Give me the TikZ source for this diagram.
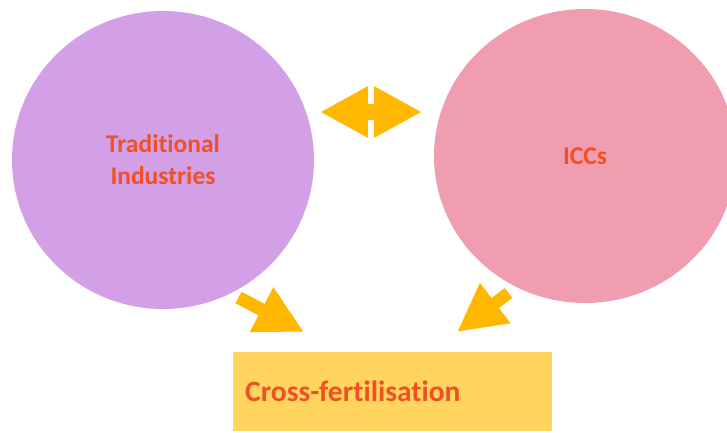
\documentclass[tikz,border=0pt]{standalone}
\usepackage{fontspec}
\setmainfont{Carlito}[Ligatures=NoCommon]
\usetikzlibrary{arrows.meta,shapes.geometric}

\definecolor{tradpurple}{RGB}{211,160,232}
\definecolor{iccpink}{RGB}{240,157,176}
\definecolor{crossyellow}{RGB}{255,213,95}
\definecolor{arrowgold}{RGB}{255,183,0}
\definecolor{labelred}{RGB}{240,80,35}

\begin{document}
\begin{tikzpicture}[x=1pt, y=-1pt,
    bubble/.style={ellipse, inner sep=0pt, text=labelred, align=center,
        font=\fontsize{25.5}{32}\selectfont\bfseries},
    blockarrow/.style={draw=arrowgold, line width=#1,
        -{Triangle[length=48pt, width=47pt]}}]
    \useasboundingbox (0,0) rectangle (727,432);

    % the two sectors as big round bubbles
    \node[bubble, fill=tradpurple, minimum width=302pt, minimum height=298pt]
        (trad) at (163,160) {Traditional\\Industries};
    \node[bubble, fill=iccpink, minimum width=302pt, minimum height=294pt]
        (iccs) at (585,156) {ICCs};

    % result box at the bottom, text sits on the left
    \node[anchor=north west, fill=crossyellow, minimum height=79pt,
        text width=295pt, inner xsep=12pt, align=left, text=labelred,
        font=\fontsize{29.5}{36}\selectfont\bfseries]
        (cross) at (233,352) {Cross-fertilisation};

    % ends of the block arrows
    \coordinate (dblleft) at (320,112);
    \coordinate (dblright) at (422,112);
    \coordinate (tradtail) at (238.5,297.5);
    \coordinate (tradtip) at (304,332);
    \coordinate (iccstail) at (508.5,293);
    \coordinate (iccstip) at (457,332);

    % exchange between the two bubbles
    \draw[draw=arrowgold, line width=16pt,
        {Triangle[length=48pt, width=48pt]}-{Triangle[length=48pt, width=48pt]}]
        (dblleft) -- (dblright);
    % both feed into the box below
    \draw[blockarrow=13pt] (tradtail) -- (tradtip);
    \draw[blockarrow=12.5pt] (iccstail) -- (iccstip);
\end{tikzpicture}
\end{document}
